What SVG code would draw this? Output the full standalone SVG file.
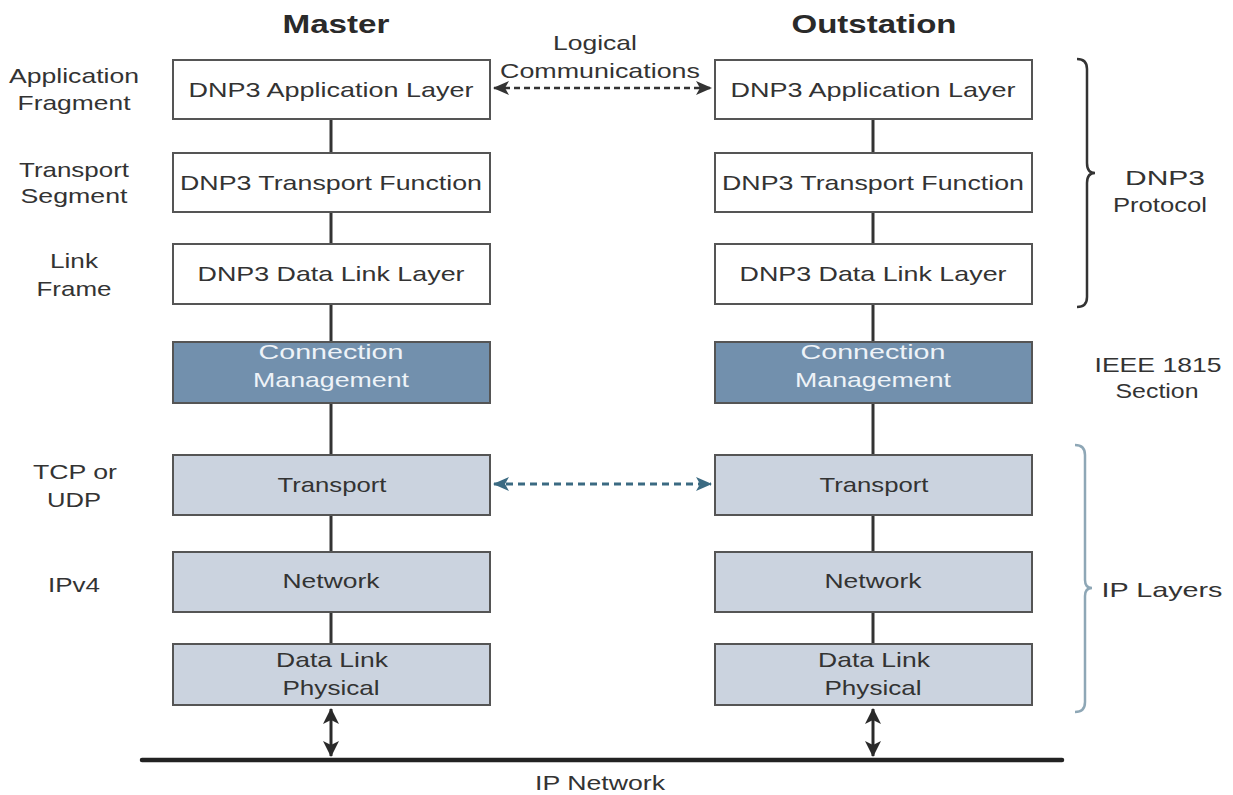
<svg xmlns="http://www.w3.org/2000/svg" width="1233" height="795" viewBox="0 0 1233 795">
<style>
text{font-family:"Liberation Sans",Arial,sans-serif;font-size:21px;fill:#333;text-anchor:middle}
.hdr{font-size:25px;font-weight:bold;fill:#2a2a2a}
.wbox{fill:#fff;stroke:#555;stroke-width:2}
.dbox{fill:#7290ad;stroke:#555;stroke-width:2}
.lbox{fill:#cbd3df;stroke:#555;stroke-width:2}
.lt{fill:#eef3f8}
.stack{stroke:#333;stroke-width:3}
</style>
<defs>
<marker id="ah" viewBox="0 0 16 14" refX="15" refY="7" markerWidth="16" markerHeight="14" markerUnits="userSpaceOnUse" orient="auto-start-reverse">
<path d="M0,0 L16,7 L0,14 L4,7 Z" fill="#333"/>
</marker>
<marker id="ahb" viewBox="0 0 16 14" refX="15" refY="7" markerWidth="16" markerHeight="14" markerUnits="userSpaceOnUse" orient="auto-start-reverse">
<path d="M0,0 L16,7 L0,14 L4,7 Z" fill="#3b6a82"/>
</marker>
<marker id="ahs" viewBox="0 0 16 16" refX="15" refY="8" markerWidth="16" markerHeight="16" markerUnits="userSpaceOnUse" orient="auto-start-reverse">
<path d="M0,0 L16,8 L0,16 L4,8 Z" fill="#2a2a2a"/>
</marker>
</defs>

<g id="headers">
<text class="hdr" x="336" y="33" textLength="107" lengthAdjust="spacingAndGlyphs">Master</text>
<text class="hdr" x="874" y="33" textLength="165" lengthAdjust="spacingAndGlyphs">Outstation</text>
</g>

<g id="connectors">
<line class="stack" x1="331" y1="119" x2="331" y2="153"/>
<line class="stack" x1="331" y1="212" x2="331" y2="244"/>
<line class="stack" x1="331" y1="304" x2="331" y2="342"/>
<line class="stack" x1="331" y1="403" x2="331" y2="455"/>
<line class="stack" x1="331" y1="515" x2="331" y2="552"/>
<line class="stack" x1="331" y1="612" x2="331" y2="644"/>
<line class="stack" x1="873" y1="119" x2="873" y2="153"/>
<line class="stack" x1="873" y1="212" x2="873" y2="244"/>
<line class="stack" x1="873" y1="304" x2="873" y2="342"/>
<line class="stack" x1="873" y1="403" x2="873" y2="455"/>
<line class="stack" x1="873" y1="515" x2="873" y2="552"/>
<line class="stack" x1="873" y1="612" x2="873" y2="644"/>
<line x1="494" y1="88" x2="711" y2="88" stroke="#333" stroke-width="2.5" stroke-dasharray="6,4" marker-start="url(#ah)" marker-end="url(#ah)"/>
<line x1="494" y1="484" x2="711" y2="484" stroke="#3b6a82" stroke-width="3" stroke-dasharray="7,5" marker-start="url(#ahb)" marker-end="url(#ahb)"/>
<line x1="331" y1="709" x2="331" y2="756" stroke="#2a2a2a" stroke-width="3" marker-start="url(#ahs)" marker-end="url(#ahs)"/>
<line x1="873" y1="709" x2="873" y2="756" stroke="#2a2a2a" stroke-width="3" marker-start="url(#ahs)" marker-end="url(#ahs)"/>
</g>

<g id="ip-network">
<line x1="142" y1="760" x2="1062" y2="760" stroke="#222" stroke-width="4.5" stroke-linecap="round"/>
<text x="600" y="790" textLength="130" lengthAdjust="spacingAndGlyphs">IP Network</text>
</g>

<g id="logical-label">
<text x="595" y="50" textLength="84" lengthAdjust="spacingAndGlyphs">Logical</text>
<text x="600" y="78" textLength="200" lengthAdjust="spacingAndGlyphs">Communications</text>
</g>

<g id="left-labels">
<text x="74" y="83" textLength="130" lengthAdjust="spacingAndGlyphs">Application</text>
<text x="74" y="110" textLength="113" lengthAdjust="spacingAndGlyphs">Fragment</text>
<text x="74" y="177" textLength="110" lengthAdjust="spacingAndGlyphs">Transport</text>
<text x="74" y="203" textLength="107" lengthAdjust="spacingAndGlyphs">Segment</text>
<text x="74" y="268" textLength="48" lengthAdjust="spacingAndGlyphs">Link</text>
<text x="74" y="296" textLength="75" lengthAdjust="spacingAndGlyphs">Frame</text>
<text x="75" y="479" textLength="84" lengthAdjust="spacingAndGlyphs">TCP or</text>
<text x="74" y="507" textLength="54" lengthAdjust="spacingAndGlyphs">UDP</text>
<text x="74" y="592" textLength="52" lengthAdjust="spacingAndGlyphs">IPv4</text>
</g>

<g id="m-app"><rect class="wbox" x="173" y="60" width="317" height="59"/><text x="331" y="97" textLength="285" lengthAdjust="spacingAndGlyphs">DNP3 Application Layer</text></g>
<g id="m-trans"><rect class="wbox" x="173" y="153" width="317" height="59"/><text x="331" y="190" textLength="302" lengthAdjust="spacingAndGlyphs">DNP3 Transport Function</text></g>
<g id="m-link"><rect class="wbox" x="173" y="244" width="317" height="60"/><text x="331" y="281" textLength="267" lengthAdjust="spacingAndGlyphs">DNP3 Data Link Layer</text></g>
<g id="m-conn"><rect class="dbox" x="173" y="342" width="317" height="61"/><text class="lt" x="331" y="359" textLength="145" lengthAdjust="spacingAndGlyphs">Connection</text><text class="lt" x="331" y="387" textLength="156" lengthAdjust="spacingAndGlyphs">Management</text></g>
<g id="m-tp"><rect class="lbox" x="173" y="455" width="317" height="60"/><text x="332" y="492" textLength="109" lengthAdjust="spacingAndGlyphs">Transport</text></g>
<g id="m-net"><rect class="lbox" x="173" y="552" width="317" height="60"/><text x="331" y="588" textLength="97" lengthAdjust="spacingAndGlyphs">Network</text></g>
<g id="m-dl"><rect class="lbox" x="173" y="644" width="317" height="61"/><text x="332" y="667" textLength="112" lengthAdjust="spacingAndGlyphs">Data Link</text><text x="331" y="695" textLength="97" lengthAdjust="spacingAndGlyphs">Physical</text></g>

<g id="o-app"><rect class="wbox" x="715" y="60" width="317" height="59"/><text x="873" y="97" textLength="285" lengthAdjust="spacingAndGlyphs">DNP3 Application Layer</text></g>
<g id="o-trans"><rect class="wbox" x="715" y="153" width="317" height="59"/><text x="873" y="190" textLength="302" lengthAdjust="spacingAndGlyphs">DNP3 Transport Function</text></g>
<g id="o-link"><rect class="wbox" x="715" y="244" width="317" height="60"/><text x="873" y="281" textLength="267" lengthAdjust="spacingAndGlyphs">DNP3 Data Link Layer</text></g>
<g id="o-conn"><rect class="dbox" x="715" y="342" width="317" height="61"/><text class="lt" x="873" y="359" textLength="145" lengthAdjust="spacingAndGlyphs">Connection</text><text class="lt" x="873" y="387" textLength="156" lengthAdjust="spacingAndGlyphs">Management</text></g>
<g id="o-tp"><rect class="lbox" x="715" y="455" width="317" height="60"/><text x="874" y="492" textLength="109" lengthAdjust="spacingAndGlyphs">Transport</text></g>
<g id="o-net"><rect class="lbox" x="715" y="552" width="317" height="60"/><text x="873" y="588" textLength="97" lengthAdjust="spacingAndGlyphs">Network</text></g>
<g id="o-dl"><rect class="lbox" x="715" y="644" width="317" height="61"/><text x="874" y="667" textLength="112" lengthAdjust="spacingAndGlyphs">Data Link</text><text x="873" y="695" textLength="97" lengthAdjust="spacingAndGlyphs">Physical</text></g>

<g id="dnp3-brace">
<path d="M1077,59 Q1087,59 1087,69 L1087,163 Q1087,173 1095,173 Q1087,173 1087,183 L1087,297 Q1087,307 1077,307" fill="none" stroke="#333" stroke-width="2.5"/>
<text x="1165" y="185" textLength="80" lengthAdjust="spacingAndGlyphs">DNP3</text>
<text x="1160" y="212" textLength="94" lengthAdjust="spacingAndGlyphs">Protocol</text>
</g>

<g id="ieee-label">
<text x="1158" y="372" textLength="127" lengthAdjust="spacingAndGlyphs">IEEE 1815</text>
<text x="1157" y="398" textLength="83" lengthAdjust="spacingAndGlyphs">Section</text>
</g>

<g id="ip-brace">
<path d="M1075,445 Q1085,445 1085,455 L1085,580 Q1085,588 1092,588 Q1085,588 1085,596 L1085,702 Q1085,712 1075,712" fill="none" stroke="#8ea7b6" stroke-width="2.5"/>
<text x="1162" y="597" textLength="121" lengthAdjust="spacingAndGlyphs">IP Layers</text>
</g>
</svg>
